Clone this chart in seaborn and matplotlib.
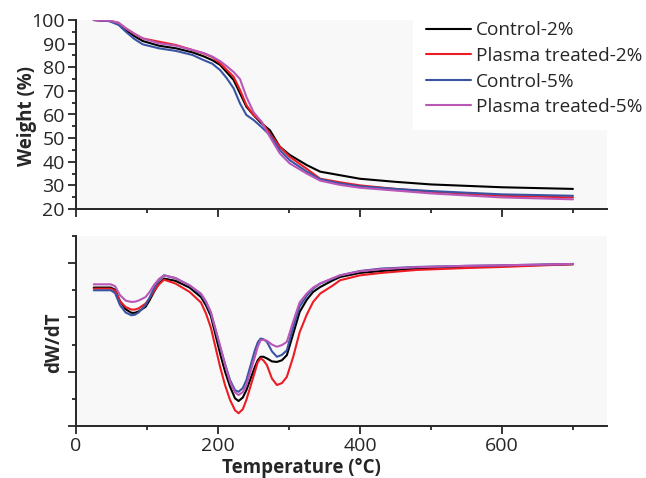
import pandas as pd
import matplotlib.pyplot as plt
import seaborn as sns
from matplotlib.ticker import MultipleLocator, NullFormatter

# TGA curves (weight %)
tga_temp = [25, 47, 60, 70, 82, 94, 117, 141, 164, 180, 192, 203, 212, 222, 231, 240,
            250, 261, 273, 287, 301, 325, 344, 372, 400, 450, 500, 600, 700]
tga_control_2 = [100, 99.6, 98.4, 95.8, 93.2, 91.1, 89.1, 88.0, 86.3, 84.6, 83.0, 81.0, 78.0, 74.6, 69.0, 63.3,
                 59.8, 56.3, 53.4, 46.4, 42.9, 38.6, 35.8, 34.3, 32.8, 31.5, 30.4, 29.2, 28.5]
tga_plasma_2 = [100, 99.7, 98.8, 96.5, 94.2, 92.2, 90.8, 89.4, 87.3, 85.8, 84.3, 81.7, 79.0, 76.0, 70.4, 64.0,
                59.8, 57.0, 52.0, 46.4, 42.1, 37.0, 32.8, 31.3, 30.0, 28.5, 27.3, 25.6, 24.9]
tga_control_5 = [100, 99.5, 97.9, 95.1, 92.0, 89.7, 88.0, 86.9, 85.2, 83.0, 81.5, 78.8, 75.5, 71.1, 64.7, 59.8,
                 57.7, 54.8, 51.3, 45.0, 40.7, 35.8, 32.6, 30.8, 29.6, 28.5, 27.6, 26.2, 25.6]
tga_plasma_5 = [100, 99.7, 98.8, 96.5, 94.2, 92.2, 90.1, 89.1, 87.3, 86.0, 84.5, 82.6, 80.5, 78.0, 75.0, 67.5,
                61.0, 57.0, 50.6, 43.6, 39.3, 35.0, 32.0, 30.2, 29.0, 27.8, 26.6, 24.9, 24.1]

# DTG curves (arbitrary units)
dtg_temp = [25, 49, 55, 62, 70, 78, 83, 88, 98, 104, 110, 117, 124, 140, 160, 176, 183, 190, 203, 210,
            217, 224, 229, 235, 240, 252, 256, 260, 264, 269, 276, 283, 290, 297, 306, 315, 325, 334,
            344, 362, 372, 400, 430, 480, 550, 600, 700]
dtg_control_2 = [5.10, 5.10, 5.02, 4.60, 4.30, 4.17, 4.17, 4.22, 4.39, 4.65, 4.95, 5.25, 5.43, 5.35, 5.10,
                 4.75, 4.45, 4.05, 2.67, 2.00, 1.45, 1.02, 0.92, 1.05, 1.32, 2.18, 2.42, 2.55, 2.55, 2.49,
                 2.38, 2.36, 2.42, 2.61, 3.40, 4.20, 4.65, 4.94, 5.12, 5.37, 5.49, 5.64, 5.71, 5.80, 5.86,
                 5.90, 5.96]
dtg_plasma_2 = [5.06, 5.06, 4.98, 4.60, 4.38, 4.29, 4.29, 4.33, 4.51, 4.72, 4.98, 5.22, 5.39, 5.25, 4.94,
                4.55, 4.15, 3.62, 2.18, 1.50, 0.96, 0.58, 0.47, 0.62, 0.96, 2.00, 2.35, 2.49, 2.42, 2.24,
                1.75, 1.51, 1.58, 1.81, 2.55, 3.45, 4.10, 4.57, 4.88, 5.18, 5.37, 5.55, 5.64, 5.75, 5.82,
                5.86, 5.96]
dtg_control_5 = [5.00, 5.00, 4.90, 4.45, 4.18, 4.08, 4.10, 4.18, 4.45, 4.75, 5.08, 5.38, 5.55, 5.45, 5.18,
                 4.85, 4.55, 4.15, 2.92, 2.28, 1.69, 1.32, 1.26, 1.40, 1.69, 2.79, 3.08, 3.22, 3.20, 3.10,
                 2.75, 2.55, 2.62, 2.79, 3.65, 4.40, 4.80, 5.06, 5.25, 5.43, 5.55, 5.71, 5.80, 5.86, 5.90,
                 5.92, 5.97]
dtg_plasma_5 = [5.22, 5.22, 5.15, 4.82, 4.62, 4.57, 4.58, 4.62, 4.75, 4.95, 5.20, 5.42, 5.55, 5.45, 5.18,
                4.88, 4.60, 4.20, 2.95, 2.25, 1.62, 1.24, 1.14, 1.25, 1.51, 2.55, 2.92, 3.16, 3.18, 3.14,
                3.00, 2.92, 2.98, 3.10, 3.85, 4.55, 4.88, 5.10, 5.25, 5.45, 5.55, 5.70, 5.78, 5.85, 5.90,
                5.92, 5.97]

labels = ['Control-2%', 'Plasma treated-2%', 'Control-5%', 'Plasma treated-5%']
colors = ['#000000', '#ed1c24', '#3a54a4', '#b957b9']

tga = pd.concat([pd.DataFrame({'T': tga_temp, 'W': w, 'sample': lab})
                 for w, lab in zip([tga_control_2, tga_plasma_2, tga_control_5, tga_plasma_5], labels)])
dtg = pd.concat([pd.DataFrame({'T': dtg_temp, 'D': d, 'sample': lab})
                 for d, lab in zip([dtg_control_2, dtg_plasma_2, dtg_control_5, dtg_plasma_5], labels)])

sns.set_style('ticks')
plt.rcParams['font.family'] = ['Open Sans', 'DejaVu Sans']
plt.rcParams['axes.linewidth'] = 1.4

fig = plt.figure(figsize=(6.46, 4.78), dpi=100)
ax1 = fig.add_axes([76 / 646, 1 - 209 / 478, 531 / 646, 189 / 478])
ax2 = fig.add_axes([76 / 646, 1 - 426 / 478, 531 / 646, 190 / 478])

palette = dict(zip(labels, colors))
sns.lineplot(data=tga, x='T', y='W', hue='sample', hue_order=labels, palette=palette,
             linewidth=1.5, ax=ax1)
sns.lineplot(data=dtg, x='T', y='D', hue='sample', hue_order=labels, palette=palette,
             linewidth=1.5, ax=ax2, legend=False)

for ax in (ax1, ax2):
    ax.set_facecolor('#f8f8f8')
    sns.despine(ax=ax)
    ax.set_xlim(0, 748)
    ax.xaxis.set_major_locator(MultipleLocator(200))
    ax.xaxis.set_minor_locator(MultipleLocator(100))
    ax.tick_params(which='major', length=6, width=1.3, labelsize=14, pad=2)
    ax.tick_params(which='minor', length=3, width=1.3)

ax1.set_ylim(20, 100)
ax1.yaxis.set_major_locator(MultipleLocator(10))
ax1.yaxis.set_minor_locator(MultipleLocator(5))
ax1.xaxis.set_major_formatter(NullFormatter())
ax1.set_xlabel('')
ax1.set_ylabel('Weight (%)', fontsize=13.5, fontweight='bold')
ax1.yaxis.set_label_coords(-0.073, 0.49)

ax2.set_ylim(0, 7)
ax2.yaxis.set_major_locator(MultipleLocator(2))
ax2.yaxis.set_minor_locator(MultipleLocator(1))
ax2.yaxis.set_major_formatter(NullFormatter())
ax2.set_ylabel('dW/dT', fontsize=13.5, fontweight='bold')
ax2.yaxis.set_label_coords(-0.023, 0.44)
ax2.set_xlabel('Temperature (\u00b0C)', fontsize=13.5, fontweight='bold')
ax2.xaxis.set_label_coords(0.424, -0.17)

leg = ax1.legend(loc='upper left', bbox_to_anchor=(413 / 646, 1 - 8 / 478), bbox_transform=fig.transFigure,
                 frameon=True, fancybox=False, framealpha=1, facecolor='white', edgecolor='white',
                 fontsize=13.7, handlelength=2.35, handletextpad=0.26, labelspacing=0.4,
                 borderaxespad=0, borderpad=0.7)
for line in leg.get_lines():
    line.set_linewidth(1.5)

plt.savefig('out.png', dpi=100)
